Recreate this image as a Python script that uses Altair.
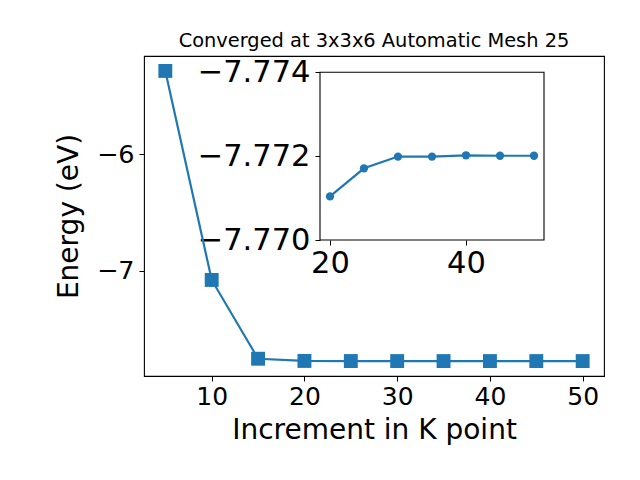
import altair as alt
import pandas as pd

# ---- data ----
k_points = [5, 10, 15, 20, 25, 30, 35, 40, 45, 50]
energy_main = [-5.286, -7.077, -7.752, -7.77104, -7.77171, -7.77199, -7.77199, -7.77202, -7.77201, -7.77201]

inset_k = [20, 25, 30, 35, 40, 45, 50]
inset_energy = [-7.77104, -7.77171, -7.77199, -7.77199, -7.77202, -7.77201, -7.77201]

main_x_ticks = [10, 20, 30, 40, 50]
main_y_ticks = [-6, -7]
inset_x_ticks = [20, 40]
inset_y_ticks = [-7.774, -7.772, -7.770]

main_x_domain = [2.7, 52.3]
main_y_domain = [-7.9, -5.158]
inset_x_domain = [18.53, 51.47]
inset_y_domain = [-7.774, -7.770]

BLUE = "#1f77b4"
FONT = "DejaVu Sans"

main_df = pd.DataFrame({"k": k_points, "E": energy_main})
inset_df = pd.DataFrame({"k": inset_k, "E": inset_energy})
frame_df = pd.DataFrame({"k": [inset_x_domain[0]], "k2": [inset_x_domain[1]],
                         "E": [inset_y_domain[0]], "E2": [inset_y_domain[1]]})

mx = alt.X("k:Q",
           scale=alt.Scale(domain=main_x_domain, nice=False, zero=False),
           axis=alt.Axis(values=main_x_ticks, title="Increment in K point", format="d",
                         grid=False, domain=False, tickSize=5, tickColor="black",
                         labelFontSize=25, labelColor="black", labelFont=FONT, labelPadding=3,
                         titleFontSize=28, titleFont=FONT, titleFontWeight="normal",
                         titleColor="black", titlePadding=7))
my = alt.Y("E:Q",
           scale=alt.Scale(domain=main_y_domain, nice=False, zero=False),
           axis=alt.Axis(values=main_y_ticks, title="Energy (eV)", format="d",
                         grid=False, domain=False, tickSize=5, tickColor="black",
                         labelFontSize=25.5, labelColor="black", labelFont=FONT, labelPadding=5,
                         titleFontSize=28, titleFont=FONT, titleFontWeight="normal",
                         titleColor="black", titlePadding=13))

main_line = alt.Chart(main_df).mark_line(color=BLUE, strokeWidth=2.2).encode(x=mx, y=my)
main_pts = alt.Chart(main_df).mark_point(shape="square", filled=True, color=BLUE,
                                         size=193, opacity=1).encode(x=mx, y=my)
main_layer = alt.layer(main_line, main_pts)

ix_scale = alt.Scale(domain=inset_x_domain, range=[176, 400], nice=False, zero=False)
iy_scale = alt.Scale(domain=inset_y_domain, range=[16.3, 184], nice=False, zero=False)
ix_axis = alt.Axis(values=inset_x_ticks, title=None, orient="bottom", offset=-136,
                   format="d", grid=False, domain=False, tickSize=5, tickColor="black",
                   labelFontSize=30.5, labelColor="black", labelFont=FONT, labelPadding=3)
iy_axis = alt.Axis(values=inset_y_ticks, title=None, orient="left", offset=-176,
                   format=".3f", grid=False, domain=False, tickSize=5, tickColor="black",
                   labelFontSize=30.5, labelColor="black", labelFont=FONT, labelPadding=5)
ix = alt.X("k:Q", scale=ix_scale, axis=ix_axis)
iy = alt.Y("E:Q", scale=iy_scale, axis=iy_axis)

inset_frame = alt.Chart(frame_df).mark_rect(fill="white", stroke="black", strokeWidth=1.1).encode(
    x=ix, x2="k2:Q", y=iy, y2="E2:Q",
)
inset_line = alt.Chart(inset_df).mark_line(color=BLUE, strokeWidth=2.2).encode(x=ix, y=iy)
inset_pts = alt.Chart(inset_df).mark_point(shape="circle", filled=True, color=BLUE,
                                           size=69, opacity=1).encode(x=ix, y=iy)
inset_layer = alt.layer(inset_frame, inset_line, inset_pts)

chart = alt.layer(main_layer, inset_layer).resolve_scale(
    x="independent", y="independent"
).resolve_axis(
    x="independent", y="independent"
).properties(
    width=460, height=320,
    title=alt.TitleParams("Converged at 3x3x6 Automatic Mesh 25", fontSize=19.4, font=FONT,
                          fontWeight="normal", color="black", anchor="middle", offset=5),
    autosize=alt.AutoSizeParams(type="none"),
    padding={"left": 136, "top": 48, "right": 28, "bottom": 96},
).configure(background="white").configure_view(stroke="black", strokeWidth=1.1)

chart.save("out.html", embed_options={"renderer": "svg", "actions": False})
